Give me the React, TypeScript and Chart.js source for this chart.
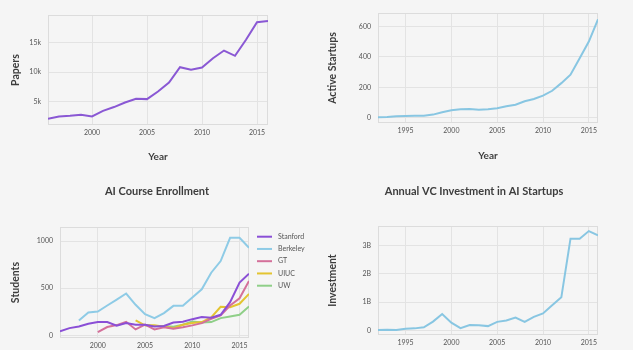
import React, { useEffect, useRef } from "react";
import { Chart, registerables } from "chart.js";

Chart.register(...registerables);
Chart.defaults.font.family = 'Lato, "Open Sans", sans-serif';

// ---------- data ----------
const PAPER_YEARS = [1996, 1997, 1998, 1999, 2000, 2001, 2002, 2003, 2004, 2005, 2006, 2007, 2008, 2009, 2010, 2011, 2012, 2013, 2014, 2015, 2016];
const PAPERS = [2050, 2450, 2560, 2740, 2450, 3400, 4050, 4830, 5450, 5400, 6700, 8230, 10830, 10380, 10780, 12360, 13660, 12760, 15480, 18480, 18700];

const STARTUP_YEARS = [1992, 1993, 1994, 1995, 1996, 1997, 1998, 1999, 2000, 2001, 2002, 2003, 2004, 2005, 2006, 2007, 2008, 2009, 2010, 2011, 2012, 2013, 2014, 2015, 2016];
const ACTIVE_STARTUPS = [4, 6, 11, 13, 15, 15, 22, 37, 50, 57, 59, 54, 57, 63, 76, 87, 109, 124, 146, 178, 228, 283, 391, 500, 646];

const ENROLL_YEARS = [1996, 1997, 1998, 1999, 2000, 2001, 2002, 2003, 2004, 2005, 2006, 2007, 2008, 2009, 2010, 2011, 2012, 2013, 2014, 2015, 2016];
const STANFORD = [42, 77, 95, 123, 141, 141, 102, 130, 113, 113, 95, 99, 137, 144, 172, 194, 187, 218, 352, 560, 655];
const BERKELEY = [null, null, 158, 243, 253, 317, 380, 444, 324, 225, 183, 236, 313, 313, 401, 489, 665, 789, 1035, 1035, 930];
const GT = [null, null, null, null, 35, 88, 109, 144, 63, 113, 63, 85, 70, 85, 106, 130, 176, 211, 317, 394, 577];
const UIUC = [null, null, null, null, null, null, null, null, 158, 106, 106, 92, 77, 113, 130, 141, 190, 303, 299, 335, 440];
const UW = [null, null, null, null, null, null, null, null, null, 106, 99, 99, 92, 113, 148, 137, 141, 183, 201, 218, 306];

const VC_YEARS = STARTUP_YEARS;
const VC_INVESTMENT_B = [0.01, 0.02, 0.01, 0.06, 0.07, 0.11, 0.31, 0.58, 0.27, 0.08, 0.19, 0.18, 0.15, 0.3, 0.35, 0.45, 0.3, 0.48, 0.6, 0.89, 1.17, 3.25, 3.25, 3.52, 3.37];

const X_TICKS_A = [2000, 2005, 2010, 2015];
const X_TICKS_B = [1995, 2000, 2005, 2010, 2015];
const PAPER_Y_TICKS = [5000, 10000, 15000];
const STARTUP_Y_TICKS = [0, 200, 400, 600];
const ENROLL_Y_TICKS = [0, 500, 1000];
const VC_Y_TICKS = [0, 1, 2, 3];

// ---------- styles ----------
const BG = "#f5f5f5";
const GRID = "#e3e3e3";
const TICK = "#555555";
const TITLE = "#3d3d3d";

type DS = { label: string; years: number[]; values: (number | null)[]; color: string };

type Props = {
  left: number;
  top: number;
  width: number;
  height: number;
  plot: [number, number, number, number];
  datasets: DS[];
  xMin: number;
  xMax: number;
  xTicks: number[];
  yMin: number;
  yMax: number;
  yTicks: number[];
  yFmt: (v: number) => string;
  yTitle: string;
  yTitlePad: number;
  xTitle?: string;
  xTitlePad?: number;
  title?: string;
  titlePos?: [number, number];
  legend?: { x: number; y: number; step: number };
};

function LineChart(p: Props) {
  const ref = useRef<HTMLCanvasElement | null>(null);
  useEffect(() => {
    const [px0, py0, px1, py1] = p.plot;
    const framePlugin = {
      id: "frame",
      beforeDatasetsDraw(chart: any) {
        const { ctx, chartArea: a } = chart;
        ctx.save();
        ctx.strokeStyle = "#dcdcdc";
        ctx.lineWidth = 1;
        ctx.strokeRect(a.left + 0.5, a.top + 0.5, a.right - a.left - 1, a.bottom - a.top - 1);
        ctx.restore();
      },
    };
    const extrasPlugin = {
      id: "extras",
      afterDraw(chart: any) {
        const ctx = chart.ctx;
        ctx.save();
        if (p.title && p.titlePos) {
          ctx.font = 'bold 11px Lato, "Open Sans", sans-serif';
          ctx.fillStyle = TITLE;
          ctx.textAlign = "center";
          ctx.textBaseline = "middle";
          ctx.fillText(p.title, p.titlePos[0], p.titlePos[1]);
        }
        if (p.legend) {
          const lg = p.legend;
          chart.data.datasets.forEach((d: any, i: number) => {
            const y = lg.y + i * lg.step;
            ctx.strokeStyle = d.borderColor;
            ctx.lineWidth = 2;
            ctx.beginPath();
            ctx.moveTo(lg.x, y);
            ctx.lineTo(lg.x + 15, y);
            ctx.stroke();
            ctx.font = '7px Lato, "Open Sans", sans-serif';
            ctx.fillStyle = TICK;
            ctx.textAlign = "left";
            ctx.textBaseline = "middle";
            ctx.fillText(d.label, lg.x + 21, y);
          });
        }
        ctx.restore();
      },
    };
    const chart = new Chart(ref.current as HTMLCanvasElement, {
      type: "line",
      data: {
        datasets: p.datasets.map((d) => ({
          label: d.label,
          data: d.years.map((yr, i) => ({ x: yr, y: d.values[i] })),
          borderColor: d.color,
          backgroundColor: d.color,
          borderWidth: 2,
          pointRadius: 0,
          tension: 0,
          spanGaps: false,
        })),
      },
      options: {
        animation: false,
        responsive: false,
        maintainAspectRatio: false,
        layout: { padding: { left: 0, top: py0, right: p.width - px1, bottom: 0 } },
        plugins: { legend: { display: false }, tooltip: { enabled: false }, title: { display: false } },
        scales: {
          x: {
            type: "linear",
            min: p.xMin,
            max: p.xMax,
            afterBuildTicks: (s: any) => {
              s.ticks = p.xTicks.map((v) => ({ value: v }));
            },
            afterFit: (s: any) => {
              s.height = p.height - py1;
            },
            ticks: { color: TICK, font: { size: 7 }, padding: 4, maxRotation: 0, callback: (v: any) => String(v) },
            grid: { color: GRID, drawTicks: false, lineWidth: 1 },
            border: { display: false },
            title: p.xTitle
              ? { display: true, text: p.xTitle, color: TITLE, font: { size: 10, weight: "bold" }, padding: { top: 0, bottom: p.xTitlePad || 0 } }
              : { display: false },
          },
          y: {
            type: "linear",
            min: p.yMin,
            max: p.yMax,
            afterBuildTicks: (s: any) => {
              s.ticks = p.yTicks.map((v) => ({ value: v }));
            },
            afterFit: (s: any) => {
              s.width = px0;
            },
            ticks: { color: TICK, font: { size: 7 }, padding: 7, callback: (v: any) => p.yFmt(Number(v)) },
            grid: { color: GRID, drawTicks: false, lineWidth: 1 },
            border: { display: false },
            title: { display: true, text: p.yTitle, color: TITLE, font: { size: 10.5, weight: "bold" }, padding: { top: p.yTitlePad, bottom: 0 } },
          },
        },
      } as any,
      plugins: [framePlugin, extrasPlugin],
    });
    return () => chart.destroy();
  }, []);
  return (
    <canvas
      ref={ref}
      width={p.width}
      height={p.height}
      style={{ position: "absolute", left: p.left, top: p.top, width: p.width, height: p.height }}
    />
  );
}

export default function App() {
  return (
    <div style={{ position: "relative", width: 633, height: 350, background: BG, overflow: "hidden" }}>
      <style>{`body{margin:0;background:${BG};}`}</style>
      <LineChart
        left={0}
        top={0}
        width={316}
        height={175}
        plot={[48, 15, 268, 125]}
        datasets={[{ label: "Papers", years: PAPER_YEARS, values: PAPERS, color: "#8a58d4" }]}
        xMin={1996}
        xMax={2016}
        xTicks={X_TICKS_A}
        yMin={1000}
        yMax={19700}
        yTicks={PAPER_Y_TICKS}
        yFmt={(v) => v / 1000 + "k"}
        yTitle="Papers"
        yTitlePad={9}
        xTitle="Year"
        xTitlePad={12}
      />
      <LineChart
        left={316}
        top={0}
        width={317}
        height={175}
        plot={[62, 13, 282, 123]}
        datasets={[{ label: "Active Startups", years: STARTUP_YEARS, values: ACTIVE_STARTUPS, color: "#88c6e2" }]}
        xMin={1992}
        xMax={2016}
        xTicks={X_TICKS_B}
        yMin={-33}
        yMax={687}
        yTicks={STARTUP_Y_TICKS}
        yFmt={(v) => String(v)}
        yTitle="Active Startups"
        yTitlePad={10}
        xTitle="Year"
        xTitlePad={13.5}
      />
      <LineChart
        left={0}
        top={175}
        width={316}
        height={175}
        plot={[60, 52, 249, 163]}
        datasets={[
          { label: "Stanford", years: ENROLL_YEARS, values: STANFORD, color: "#8a4fd6" },
          { label: "Berkeley", years: ENROLL_YEARS, values: BERKELEY, color: "#8ecbe6" },
          { label: "GT", years: ENROLL_YEARS, values: GT, color: "#d4709a" },
          { label: "UIUC", years: ENROLL_YEARS, values: UIUC, color: "#e3c431" },
          { label: "UW", years: ENROLL_YEARS, values: UW, color: "#8fcf88" },
        ]}
        xMin={1996}
        xMax={2016}
        xTicks={X_TICKS_A}
        yMin={-28}
        yMax={1150}
        yTicks={ENROLL_Y_TICKS}
        yFmt={(v) => String(v)}
        yTitle="Students"
        yTitlePad={9}
        title="AI Course Enrollment"
        titlePos={[157, 16]}
        legend={{ x: 257, y: 61.7, step: 12.25 }}
      />
      <LineChart
        left={316}
        top={175}
        width={317}
        height={175}
        plot={[62, 51, 282, 160]}
        datasets={[{ label: "Investment", years: VC_YEARS, values: VC_INVESTMENT_B, color: "#88c6e2" }]}
        xMin={1992}
        xMax={2016}
        xTicks={X_TICKS_B}
        yMin={-0.165}
        yMax={3.7}
        yTicks={VC_Y_TICKS}
        yFmt={(v) => (v === 0 ? "0" : v + "B")}
        yTitle="Investment"
        yTitlePad={10}
        title="Annual VC Investment in AI Startups"
        titlePos={[158, 16]}
      />
    </div>
  );
}
